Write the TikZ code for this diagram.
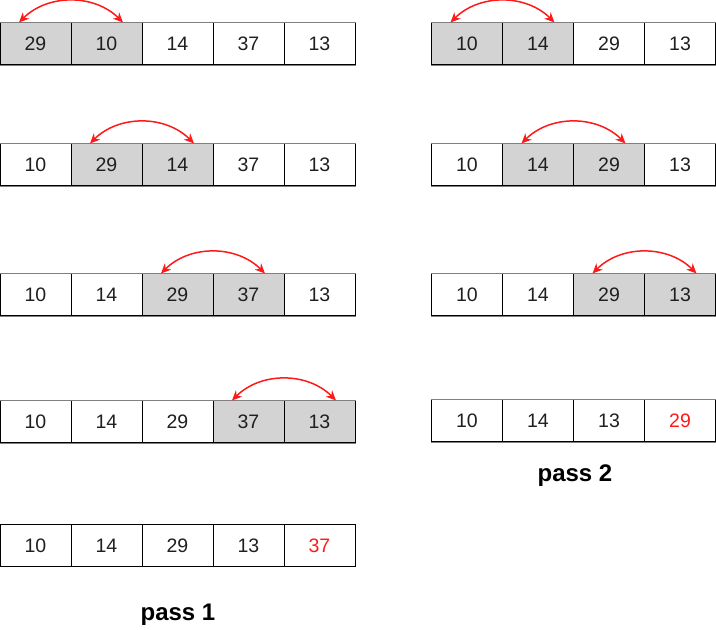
\documentclass[tikz,border=0pt]{standalone}
\usepackage{fontspec}
\setmainfont{Liberation Sans}
\usetikzlibrary{arrows.meta}
\definecolor{cellgray}{HTML}{D3D3D3}
\definecolor{swapred}{HTML}{FF1A1A}
\definecolor{edgegray}{HTML}{808080}
\tikzset{
  cell/.style={draw=black, line width=1pt, minimum width=71pt, minimum height=42pt, inner sep=0pt, font=\fontsize{19.5}{19.5}\selectfont, text=black!88},
  hot/.style={fill=cellgray},
  done/.style={text=swapred},
  swap/.style={draw=swapred, line width=1.5pt, {Stealth[length=10pt,width=9pt]}-{Stealth[length=10pt,width=9pt]}, out=45, in=135},
  rim/.style={draw=edgegray, line width=1.6pt},
  passlabel/.style={font=\bfseries\fontsize{24}{24}\selectfont, inner sep=0pt}
}
\begin{document}
\begin{tikzpicture}[x=1pt,y=1pt]
\useasboundingbox (0,0) rectangle (716,630);
% ---------- left column (pass 1) ----------
% row 1
\node[cell,hot] (a1) at (35.5,586) {29};
\node[cell,hot] (a2) at (106.5,586) {10};
\node[cell] (a3) at (177.5,586) {14};
\node[cell] (a4) at (248.5,586) {37};
\node[cell] (a5) at (319.5,586) {13};
% row 2
\node[cell] (b1) at (35.5,465) {10};
\node[cell,hot] (b2) at (106.5,465) {29};
\node[cell,hot] (b3) at (177.5,465) {14};
\node[cell] (b4) at (248.5,465) {37};
\node[cell] (b5) at (319.5,465) {13};
% row 3
\node[cell] (c1) at (35.5,335) {10};
\node[cell] (c2) at (106.5,335) {14};
\node[cell,hot] (c3) at (177.5,335) {29};
\node[cell,hot] (c4) at (248.5,335) {37};
\node[cell] (c5) at (319.5,335) {13};
% row 4
\node[cell] (d1) at (35.5,208) {10};
\node[cell] (d2) at (106.5,208) {14};
\node[cell] (d3) at (177.5,208) {29};
\node[cell,hot] (d4) at (248.5,208) {37};
\node[cell,hot] (d5) at (319.5,208) {13};
% row 5
\node[cell] (e1) at (35.5,84) {10};
\node[cell] (e2) at (106.5,84) {14};
\node[cell] (e3) at (177.5,84) {29};
\node[cell] (e4) at (248.5,84) {13};
\node[cell,done] (e5) at (319.5,84) {37};
% ---------- right column (pass 2) ----------
\node[cell,hot] (f1) at (467,586) {10};
\node[cell,hot] (f2) at (538,586) {14};
\node[cell] (f3) at (609,586) {29};
\node[cell] (f4) at (680,586) {13};
\node[cell] (g1) at (467,465) {10};
\node[cell,hot] (g2) at (538,465) {14};
\node[cell,hot] (g3) at (609,465) {29};
\node[cell] (g4) at (680,465) {13};
\node[cell] (h1) at (467,335) {10};
\node[cell] (h2) at (538,335) {14};
\node[cell,hot] (h3) at (609,335) {29};
\node[cell,hot] (h4) at (680,335) {13};
\node[cell] (k1) at (467,209) {10};
\node[cell] (k2) at (538,209) {14};
\node[cell] (k3) at (609,209) {13};
\node[cell,done] (k4) at (680,209) {29};
% gray rims (top and bottom of arrays)
\foreach \r/\n in {a/5,b/5,c/5,d/5,f/4,g/4,h/4,k/4}{
  \draw[rim] (\r1.north west) -- (\r\n.north east);
  \draw[rim] (\r1.south west) -- (\r\n.south east);
}
% swap arrows
\draw[swap] ([xshift=-16.5pt]a1.north) to ([xshift=16.5pt]a2.north);
\draw[swap] ([xshift=-16.5pt]b2.north) to ([xshift=16.5pt]b3.north);
\draw[swap] ([xshift=-16.5pt]c3.north) to ([xshift=16.5pt]c4.north);
\draw[swap] ([xshift=-16.5pt]d4.north) to ([xshift=16.5pt]d5.north);
\draw[swap] ([xshift=-16.5pt]f1.north) to ([xshift=16.5pt]f2.north);
\draw[swap] ([xshift=-16.5pt]g2.north) to ([xshift=16.5pt]g3.north);
\draw[swap] ([xshift=-16.5pt]h3.north) to ([xshift=16.5pt]h4.north);
% labels
\node[passlabel] (p2) at (575,154) {pass 2};
\node[passlabel] (p1) at (178,15) {pass 1};
\end{tikzpicture}
\end{document}
